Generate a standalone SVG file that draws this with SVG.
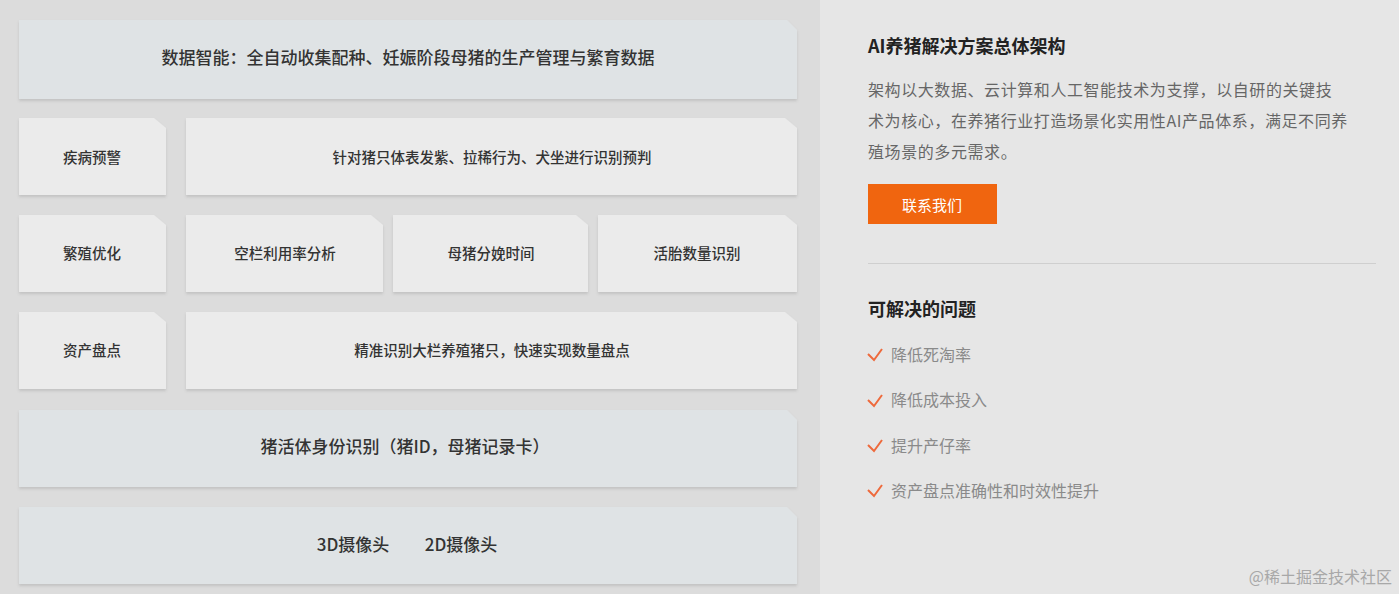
<svg xmlns="http://www.w3.org/2000/svg" width="1399" height="594" viewBox="0 0 1399 594">
<defs>
<filter id="sh" x="-5%" y="-10%" width="110%" height="130%">
<feDropShadow dx="0" dy="2" stdDeviation="1.5" flood-color="#000" flood-opacity="0.12"/>
</filter>
<style>
.blue{fill:#dfe3e5;filter:url(#sh)}
.gray{fill:#ebebeb;filter:url(#sh)}
.t{font-family:"Noto Sans CJK SC","Liberation Sans",sans-serif;fill:#333;text-anchor:middle;dominant-baseline:central;font-weight:500}
.t14{font-size:14.5px}
.t17{font-size:17px}
.h{font-family:"Noto Sans CJK SC","Liberation Sans",sans-serif;fill:#222;font-size:18px;font-weight:bold}
.p{font-family:"Noto Sans CJK SC","Liberation Sans",sans-serif;fill:#666;font-size:16px;letter-spacing:0.58px}
.c{font-family:"Noto Sans CJK SC","Liberation Sans",sans-serif;fill:#8a8a8a;font-size:16px}
.chk{fill:none;stroke:#ee6a3c;stroke-width:2}
</style>
</defs>
<rect x="0" y="0" width="820" height="594" fill="#dcdcdc"/>
<rect x="820" y="0" width="579" height="594" fill="#e6e6e6"/>

<g id="n-data">
<path class="blue" d="M19 20H787L797 30V99H19Z"/>
<text class="t t17" x="408" y="56">数据智能：全自动收集配种、妊娠阶段母猪的生产管理与繁育数据</text>
</g>
<g id="n-disease">
<path class="gray" d="M19 118H154L166 128V195H19Z"/>
<text class="t t14" x="92" y="156">疾病预警</text>
</g>
<g id="n-disease-desc">
<path class="gray" d="M186 118H785L797 128V195H186Z"/>
<text class="t t14" x="492" y="156">针对猪只体表发紫、拉稀行为、犬坐进行识别预判</text>
</g>
<g id="n-breed">
<path class="gray" d="M19 215H154L166 225V292H19Z"/>
<text class="t t14" x="92" y="252">繁殖优化</text>
</g>
<g id="n-pen">
<path class="gray" d="M186 215H371L383 225V292H186Z"/>
<text class="t t14" x="285" y="252">空栏利用率分析</text>
</g>
<g id="n-farrow">
<path class="gray" d="M393 215H576L588 225V292H393Z"/>
<text class="t t14" x="491" y="252">母猪分娩时间</text>
</g>
<g id="n-fetus">
<path class="gray" d="M598 215H785L797 225V292H598Z"/>
<text class="t t14" x="697" y="252">活胎数量识别</text>
</g>
<g id="n-asset">
<path class="gray" d="M19 312H154L166 322V389H19Z"/>
<text class="t t14" x="92" y="349">资产盘点</text>
</g>
<g id="n-asset-desc">
<path class="gray" d="M186 312H785L797 322V389H186Z"/>
<text class="t t14" x="492" y="349">精准识别大栏养殖猪只，快速实现数量盘点</text>
</g>
<g id="n-id">
<path class="blue" d="M19 410H787L797 420V487H19Z"/>
<text class="t t17" x="405" y="445">猪活体身份识别（猪ID，母猪记录卡）</text>
</g>
<g id="n-camera">
<path class="blue" d="M19 507H787L797 517V584H19Z"/>
<text class="t t17" x="353" y="543">3D摄像头</text>
<text class="t t17" x="461" y="543">2D摄像头</text>
</g>
<g id="connectors"></g>

<g id="side">
<text class="h" x="868" y="53">AI养猪解决方案总体架构</text>
<text class="p" x="868" y="96">架构以大数据、云计算和人工智能技术为支撑，以自研的关键技</text>
<text class="p" x="868" y="127">术为核心，在养猪行业打造场景化实用性AI产品体系，满足不同养</text>
<text class="p" x="868" y="158">殖场景的多元需求。</text>
<rect x="868" y="184" width="129" height="40" fill="#f0650f"/>
<text x="932" y="204" font-family="Noto Sans CJK SC,sans-serif" font-size="15" fill="#fff" text-anchor="middle" dominant-baseline="central">联系我们</text>
<line x1="868" y1="263.5" x2="1376" y2="263.5" stroke="#cfcfcf" stroke-width="1"/>
<text class="h" x="868" y="316">可解决的问题</text>
<path class="chk" d="M868 354L874 360L882 349"/>
<text class="c" x="891" y="361">降低死淘率</text>
<path class="chk" d="M868 400L874 406L882 395"/>
<text class="c" x="891" y="406">降低成本投入</text>
<path class="chk" d="M868 445L874 451L882 440"/>
<text class="c" x="891" y="452">提升产仔率</text>
<path class="chk" d="M868 490L874 496L882 485"/>
<text class="c" x="891" y="497">资产盘点准确性和时效性提升</text>
<text x="1392" y="583" font-family="Noto Sans CJK SC,sans-serif" font-size="16" fill="#a8a8a8" text-anchor="end">@稀土掘金技术社区</text>
</g>
</svg>
